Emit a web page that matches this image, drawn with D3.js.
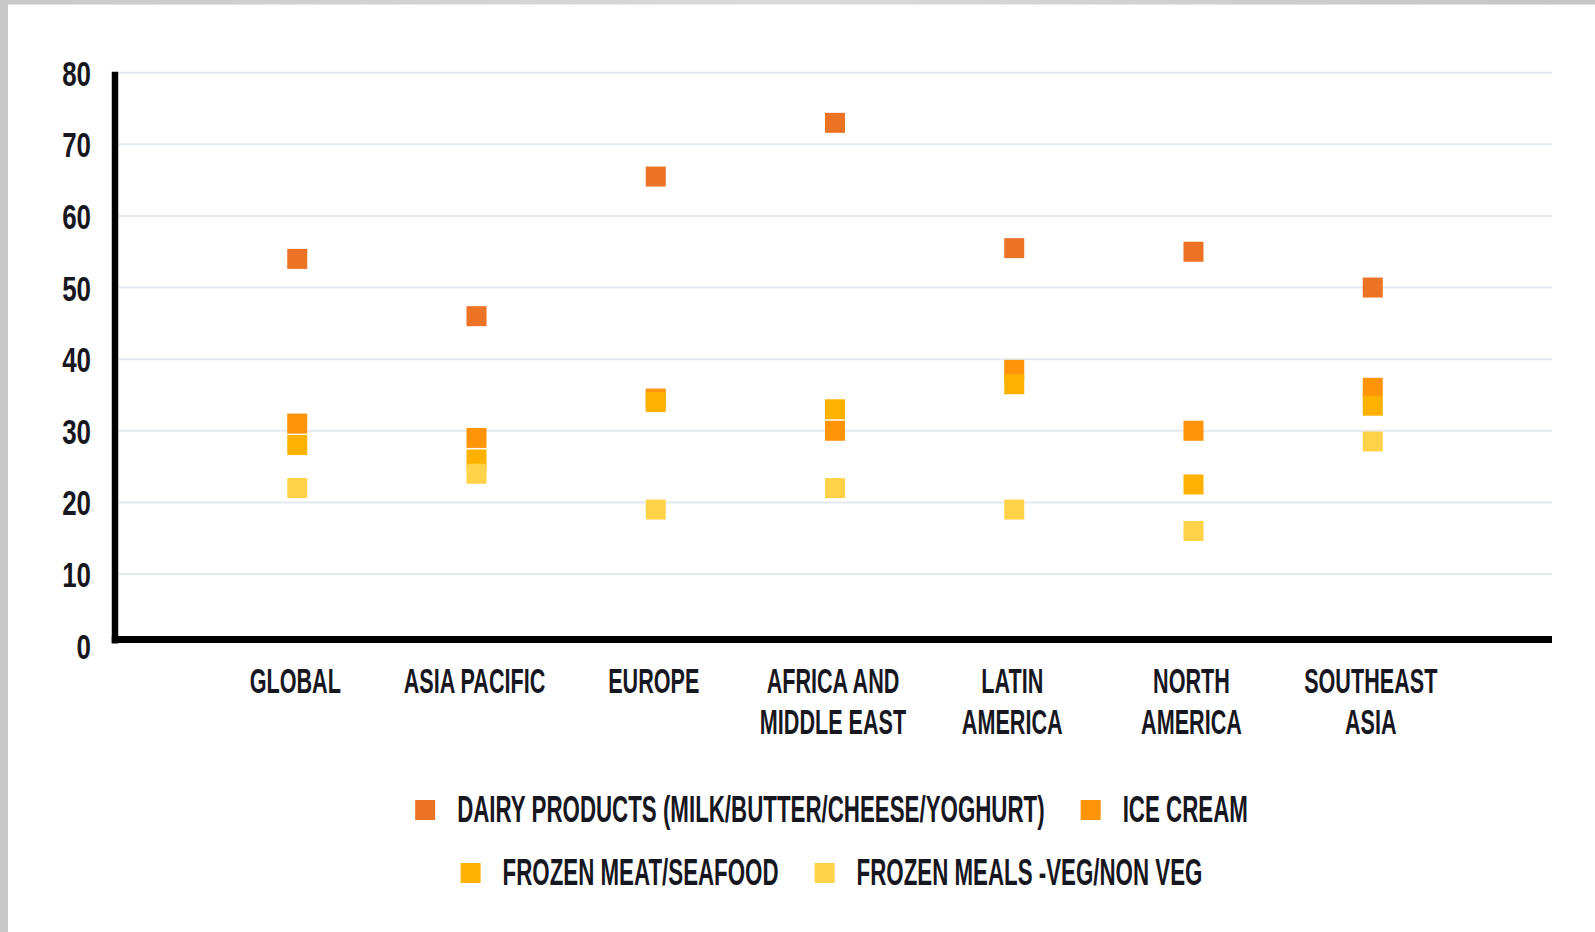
<!DOCTYPE html>
<html>
<head>
<meta charset="utf-8">
<script src="https://cdn.jsdelivr.net/npm/d3@7/dist/d3.min.js"></script>
<style>
  html, body { margin: 0; padding: 0; background: #ffffff; }
  svg { display: block; }
  text { font-family: "Liberation Sans", Arial, sans-serif; font-weight: 700; fill: #17171f; }
</style>
</head>
<body>
<svg id="chart" width="1595" height="932"></svg>
<script>
// Regions along the x axis (label lines as printed)
const categories = ["GLOBAL", "ASIA PACIFIC", "EUROPE", "AFRICA AND MIDDLE EAST", "LATIN AMERICA", "NORTH AMERICA", "SOUTHEAST ASIA"];
const categoryLines = [["GLOBAL"], ["ASIA PACIFIC"], ["EUROPE"], ["AFRICA AND", "MIDDLE EAST"], ["LATIN", "AMERICA"], ["NORTH", "AMERICA"], ["SOUTHEAST", "ASIA"]];

// Share of respondents (%) per product group
const dairy       = [54, 46, 65.5, 73, 55.5, 55, 50];
const iceCream    = [31, 29, 34.5, 30, 38.5, 30, 36];
const frozenMeat  = [28, 26, 34, 33, 36.5, 22.5, 33.5];
const frozenMeals = [22, 24, 19, 22, 19, 16, 28.5];

const seriesNames = ["DAIRY PRODUCTS (MILK/BUTTER/CHEESE/YOGHURT)", "ICE CREAM", "FROZEN MEAT/SEAFOOD", "FROZEN MEALS -VEG/NON VEG"];
const seriesColors = ["#ec7324", "#ff9409", "#ffb100", "#ffd247"];
const yTicks = [0, 10, 20, 30, 40, 50, 60, 70, 80];

const series = [dairy, iceCream, frozenMeat, frozenMeals].map((vals, i) => ({
  name: seriesNames[i], color: seriesColors[i], values: vals
}));

const svg = d3.select("#chart");
const W = 1595, H = 932;
const plot = { left: 115, right: 1552, top: 72.7, bottom: 645.6 };

// page frame: grey strips along top and left edges
const grad = svg.append("defs").append("linearGradient").attr("id", "topStrip")
  .attr("x1", 0).attr("x2", 1).attr("y1", 0).attr("y2", 0);
grad.append("stop").attr("offset", 0).attr("stop-color", "#c9c9c9");
grad.append("stop").attr("offset", 0.5).attr("stop-color", "#dadada");
grad.append("stop").attr("offset", 1).attr("stop-color", "#c4c4c4");
svg.append("rect").attr("x", 0).attr("y", 0).attr("width", W).attr("height", 4.5).attr("fill", "url(#topStrip)");
svg.append("rect").attr("x", 0).attr("y", 0).attr("width", 8).attr("height", H).attr("fill", "#c7c7c7");

const x = d3.scalePoint().domain(categories).range([plot.left + 3, plot.right]).padding(1);
const y = d3.scaleLinear().domain([0, 80]).range([plot.bottom, plot.top]);

// horizontal gridlines
svg.append("g").selectAll("line").data(yTicks.filter(t => t > 0)).join("line")
  .attr("x1", plot.left + 4).attr("x2", plot.right)
  .attr("y1", d => y(d)).attr("y2", d => y(d))
  .attr("stroke", "#e3e9ee").attr("stroke-width", 2);

// y tick labels (condensed)
svg.append("g").selectAll("text").data(yTicks).join("text")
  .attr("transform", d => `translate(91,${y(d) + 13}) scale(0.72,1)`)
  .attr("text-anchor", "end")
  .style("font-size", "36px")
  .text(d => d);

// axis lines
svg.append("line")
  .attr("x1", plot.left).attr("x2", plot.left)
  .attr("y1", y(80) - 1).attr("y2", y(0) - 2)
  .attr("stroke", "#000").attr("stroke-width", 6.5);
svg.append("line")
  .attr("x1", plot.left - 3.25).attr("x2", plot.right)
  .attr("y1", y(0) - 6).attr("y2", y(0) - 6)
  .attr("stroke", "#000").attr("stroke-width", 7);

// category labels
const catG = svg.append("g").selectAll("g").data(categories).join("g");
catG.each(function (c, i) {
  categoryLines[i].forEach((line, j) => {
    d3.select(this).append("text")
      .attr("transform", `translate(${x(c) - 2},${693 + j * 41}) scale(0.6,1)`)
      .attr("text-anchor", "middle")
      .style("font-size", "36px")
      .text(line);
  });
});

// square markers
const M = 20;
series.forEach(s => {
  svg.append("g").selectAll("rect").data(s.values).join("rect")
    .attr("x", (d, i) => x(categories[i]) - M / 2)
    .attr("y", d => y(d) - M / 2)
    .attr("width", M).attr("height", M)
    .attr("fill", s.color);
});

// legend, two centred rows
const legendRows = [[0, 1], [2, 3]];
const rowBaselines = [822, 885];
const sx = 0.62, sq = 20, gapText = 22, gapItem = 36;
const cx = (plot.left + plot.right) / 2;
legendRows.forEach((row, r) => {
  const g = svg.append("g");
  let cursor = 0;
  row.forEach((si, k) => {
    const s = series[si];
    g.append("rect").attr("x", cursor).attr("y", rowBaselines[r] - 22)
      .attr("width", sq).attr("height", sq).attr("fill", s.color);
    cursor += sq + gapText;
    const t = g.append("text")
      .attr("transform", `translate(${cursor},${rowBaselines[r]}) scale(${sx},1)`)
      .style("font-size", "36px")
      .text(s.name);
    cursor += t.node().getComputedTextLength() * sx;
    if (k < row.length - 1) cursor += gapItem;
  });
  g.attr("transform", `translate(${cx - cursor / 2 - 2},0)`);
});
</script>
</body>
</html>
